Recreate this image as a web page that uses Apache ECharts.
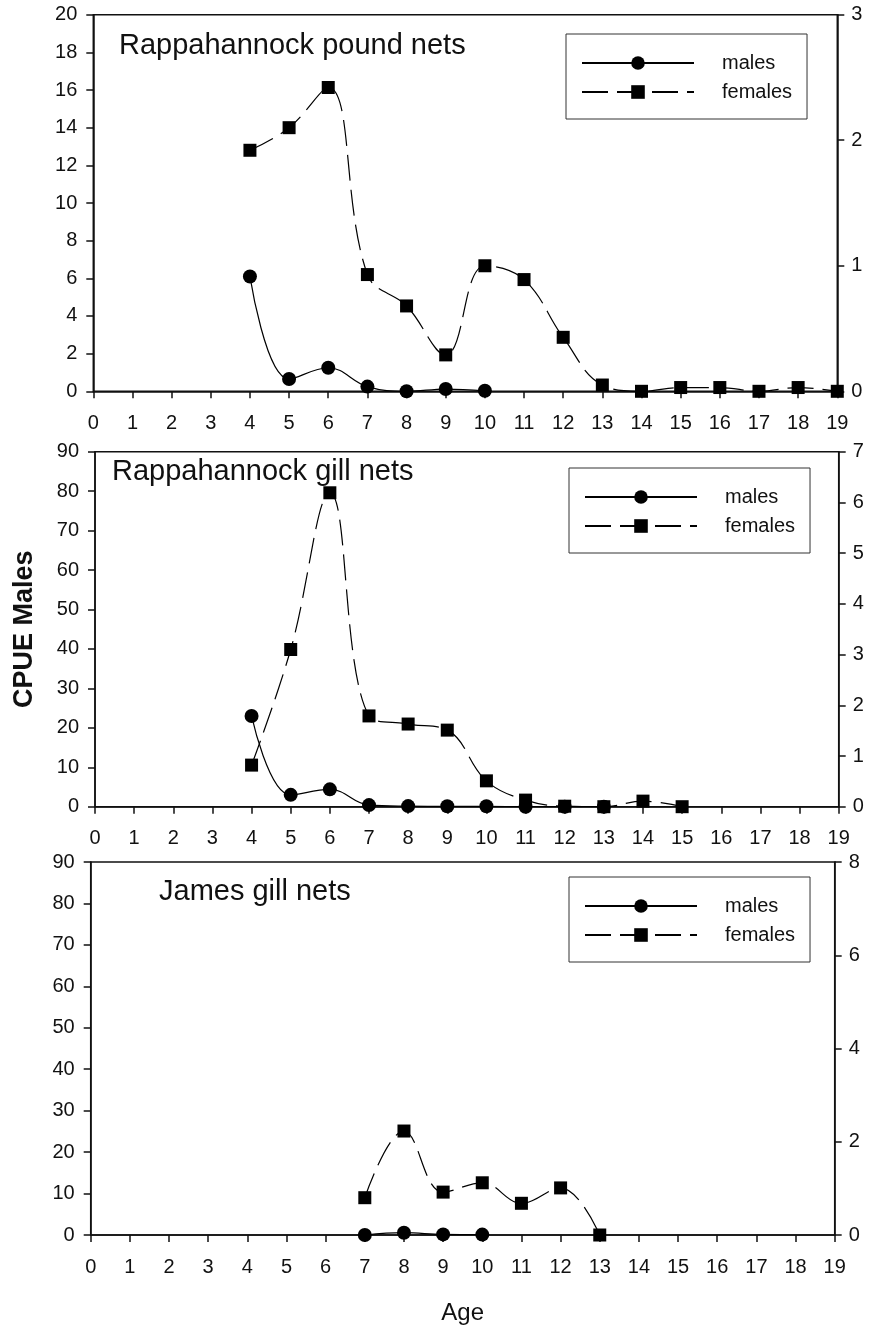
<!DOCTYPE html>
<html>
<head>
<meta charset="utf-8">
<script src="https://cdn.jsdelivr.net/npm/echarts@6/dist/echarts.min.js"></script>
<style>
html,body{margin:0;padding:0;background:#fff;}
#c{width:872px;height:1331px;}
</style>
</head>
<body>
<div id="c"></div>
<script>
// Ages (x axis)
const xTicks = [0,1,2,3,4,5,6,7,8,9,10,11,12,13,14,15,16,17,18,19];

// Panel 1: Rappahannock pound nets
const p1Title = 'Rappahannock pound nets';
const p1MaleAges = [4,5,6,7,8,9,10];
const p1Males = [6.1,0.65,1.25,0.25,0.0,0.12,0.03];
const p1FemaleAges = [4,5,6,7,8,9,10,11,12,13,14,15,16,17,18,19];
const p1Females = [1.92,2.1,2.42,0.93,0.68,0.29,1.0,0.89,0.43,0.05,0.0,0.03,0.03,0.0,0.03,0.0];

// Panel 2: Rappahannock gill nets
const p2Title = 'Rappahannock gill nets';
const p2MaleAges = [4,5,6,7,8,9,10,11,12,13];
const p2Males = [23.0,3.0,4.4,0.4,0.15,0.1,0.1,0.0,0.0,0.0];
const p2FemaleAges = [4,5,6,7,8,9,10,11,12,13,14,15];
const p2Females = [0.82,3.1,6.19,1.79,1.63,1.51,0.51,0.13,0.01,0.0,0.11,0.0];

// Panel 3: James gill nets
const p3Title = 'James gill nets';
const p3MaleAges = [7,8,9,10];
const p3Males = [0.0,0.55,0.15,0.1];
const p3FemaleAges = [7,8,9,10,11,12,13];
const p3Females = [0.8,2.23,0.92,1.12,0.68,1.01,0.0];

const legendNames = ['males','females'];
const xLabel = 'Age';
const yLabel = 'CPUE Males';

const FONT = 'Liberation Sans, Arial, sans-serif';
const zip = (xs, ys) => xs.map((x, i) => [x, ys[i]]);

const grids = [
  {left: 93.3, right: 34.7, top: 14.7, height: 376.6},
  {left: 95, right: 33.3, top: 451.7, height: 355},
  {left: 90.7, right: 37.3, top: 862, height: 373}
];
const yLeft = [{max:20, interval:2},{max:90, interval:10},{max:90, interval:10}];
const yRight = [{max:3, interval:1},{max:7, interval:1},{max:8, interval:2}];
const titles = [p1Title, p2Title, p3Title];
const titlePos = [{left:119, top:31},{left:112, top:457},{left:159, top:877}];
const legendPos = [{left:566, top:34},{left:569, top:468},{left:569, top:877}];
const maleData = [zip(p1MaleAges,p1Males), zip(p2MaleAges,p2Males), zip(p3MaleAges,p3Males)];
const femaleData = [zip(p1FemaleAges,p1Females), zip(p2FemaleAges,p2Females), zip(p3FemaleAges,p3Females)];

const axisLineStyle = {color:'#111', width:1.5};
const labelStyle = {fontFamily: FONT, fontSize: 20, color:'#111'};

const option = {
  animation: false,
  backgroundColor: '#fff',
  textStyle: {fontFamily: FONT},
  title: titles.map((t,i) => ({
    text: t, left: titlePos[i].left, top: titlePos[i].top, padding: 0,
    textStyle: {fontFamily: FONT, fontSize: 29, fontWeight: 'normal', color: '#111'}
  })),
  legend: legendPos.map(p => ({
    data: legendNames.slice(), orient: 'vertical', left: p.left, top: p.top,
    padding: [19, 15, 17, 15], itemWidth: 112, itemHeight: 17, itemGap: 9,
    borderColor: '#333', borderWidth: 1, backgroundColor: '#fff',
    selectedMode: false,
    textStyle: {fontFamily: FONT, fontSize: 20, color: '#111', padding: [0,0,0,23]}
  })),
  grid: grids.map(g => ({left: g.left, right: g.right, top: g.top, height: g.height,
    show: true, borderColor: '#111', borderWidth: 1.5, backgroundColor: 'transparent'})),
  xAxis: grids.map((g,i) => ({
    type: 'value', gridIndex: i, min: 0, max: 19, interval: 1,
    splitLine: {show: false},
    axisLine: {lineStyle: axisLineStyle},
    axisTick: {inside: false, length: 7, lineStyle: axisLineStyle},
    axisLabel: Object.assign({margin: 22}, labelStyle),
    name: i === 2 ? xLabel : '', nameLocation: 'middle', nameGap: 66,
    nameTextStyle: {fontFamily: FONT, fontSize: 24, color: '#111'}
  })),
  yAxis: [].concat(...grids.map((g,i) => [
    {type: 'value', gridIndex: i, position: 'left', min: 0, max: yLeft[i].max, interval: yLeft[i].interval,
     splitLine: {show: false}, axisLine: {show: true, lineStyle: axisLineStyle},
     axisTick: {show: true, inside: false, length: 7, lineStyle: axisLineStyle},
     axisLabel: Object.assign({margin: 16}, labelStyle),
     name: i === 1 ? yLabel : '', nameLocation: 'middle', nameGap: 57,
     nameTextStyle: {fontFamily: FONT, fontSize: 27, fontWeight: 'bold', color: '#111'}},
    {type: 'value', gridIndex: i, position: 'right', min: 0, max: yRight[i].max, interval: yRight[i].interval,
     splitLine: {show: false}, axisLine: {show: true, lineStyle: axisLineStyle},
     axisTick: {show: true, inside: false, length: 7, lineStyle: axisLineStyle},
     axisLabel: Object.assign({margin: 14}, labelStyle)}
  ])),
  series: [].concat(...grids.map((g,i) => [
    {name: 'females', type: 'line', xAxisIndex: i, yAxisIndex: 2*i+1, data: femaleData[i],
     smooth: 0.4, symbol: 'rect', symbolSize: 13,
     lineStyle: {color: '#000', width: 1.2, type: [26, 9]},
     itemStyle: {color: '#000', borderWidth: 0}},
    {name: 'males', type: 'line', xAxisIndex: i, yAxisIndex: 2*i, data: maleData[i],
     smooth: 0.4, symbol: 'circle', symbolSize: 14,
     lineStyle: {color: '#000', width: 1.2},
     itemStyle: {color: '#000', borderWidth: 0}}
  ]))
};

const chart = echarts.init(document.getElementById('c'), null, {renderer: 'canvas'});
chart.setOption(option);
</script>
</body>
</html>
